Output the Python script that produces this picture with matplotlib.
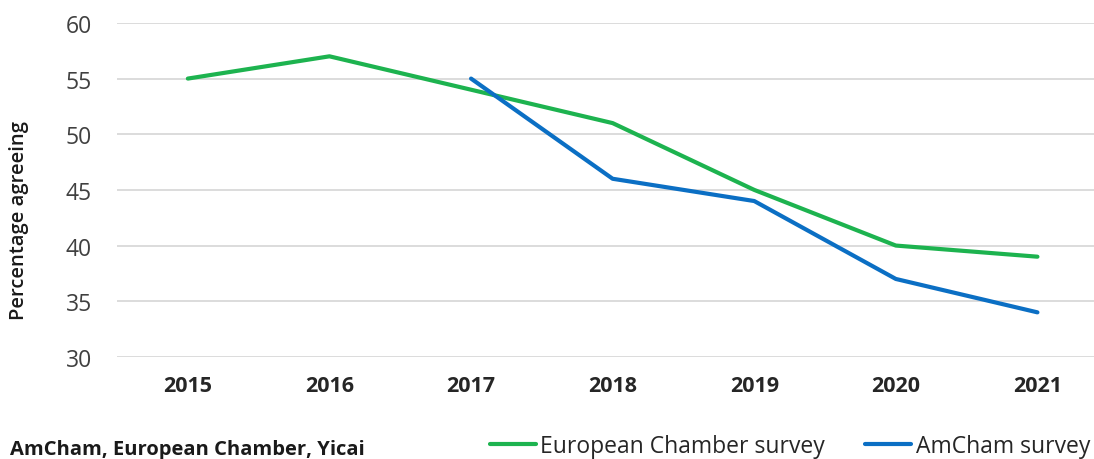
import numpy as np
import matplotlib.pyplot as plt

years = ['2015', '2016', '2017', '2018', '2019', '2020', '2021']
european = [55, 57, 54, 51, 45, 40, 39]
amcham = [np.nan, np.nan, 55, 46, 44, 37, 34]

plt.rcParams['font.family'] = ['Open Sans', 'DejaVu Sans']

fig = plt.figure(figsize=(10.94, 4.6), dpi=100)
ax = fig.add_axes([0.107, 0.222, 0.906, 0.726])

x = np.arange(len(years))
ax.plot(x, european, color='#1db34f', lw=3, solid_capstyle='round', label='European Chamber survey')
ax.plot(x, amcham, color='#0b6fc4', lw=3, solid_capstyle='round', label='AmCham survey')

ax.set_xlim(-0.5, len(years) - 0.5)
ax.set_ylim(30, 60)
ax.set_yticks(range(30, 61, 5))
ax.set_xticks(x)
ax.set_xticklabels(years, fontweight='bold', fontsize=15.5, color='#262626')
ax.tick_params(axis='x', length=0, pad=13)
ax.tick_params(axis='y', length=0, pad=18, labelsize=16.5, labelcolor='#404040')
ax.grid(axis='y', color='#d9d9d9', lw=1.3)
ax.set_axisbelow(True)
for s in ax.spines.values():
    s.set_visible(False)

ax.set_ylabel('Percentage agreeing', fontsize=14.5, fontweight='semibold', color='#1a1a1a')
ax.yaxis.set_label_coords(-0.089, 0.41)

fig.text(0.009, 0.0, 'AmCham, European Chamber, Yicai', fontsize=14.5, fontweight='bold',
         color='#1a1a1a', va='bottom')

leg = fig.legend(loc='center left', bbox_to_anchor=(0.429, 0.028), ncol=2, frameon=False,
                 fontsize=16.5, handlelength=2.0, handletextpad=0.2, columnspacing=1.75,
                 labelcolor='#262626')

fig.savefig('out.png', dpi=100)
